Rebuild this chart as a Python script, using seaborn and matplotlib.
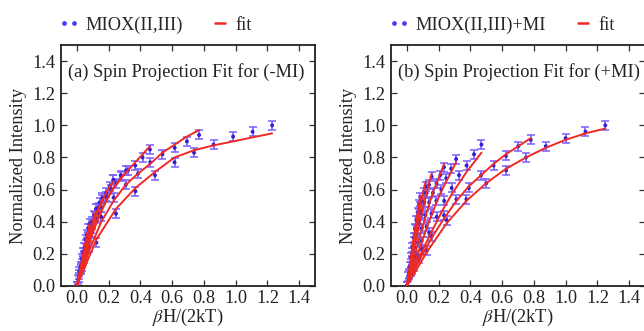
import numpy as np
import pandas as pd
import matplotlib
matplotlib.use("Agg")
import matplotlib.pyplot as plt
from matplotlib.lines import Line2D
from matplotlib.legend_handler import HandlerLine2D
import seaborn as sns

# ---------------- data ----------------
PANEL_TITLES = ["(a) Spin Projection Fit for (-MI)", "(b) Spin Projection Fit for (+MI)"]
SERIES_NAMES = ["MIOX(II,III)", "MIOX(II,III)+MI"]
X_TICKS = [0.0, 0.2, 0.4, 0.6, 0.8, 1.0, 1.2, 1.4]
Y_TICKS = [0.0, 0.2, 0.4, 0.6, 0.8, 1.0, 1.2, 1.4]

# panel (a): one list per field sweep (temperature)
A_X = [
    [0, 0.123, 0.246, 0.369, 0.492, 0.615, 0.738, 0.861, 0.984, 1.107, 1.230],
    [0, 0.077, 0.154, 0.231, 0.308, 0.385, 0.462, 0.539, 0.616, 0.693, 0.770],
    [0, 0.046, 0.092, 0.138, 0.184, 0.230, 0.276, 0.322, 0.368, 0.414, 0.460],
    [0, 0.031, 0.062, 0.093, 0.124, 0.155, 0.186, 0.217, 0.248, 0.279, 0.310],
    [0, 0.023, 0.046, 0.069, 0.092, 0.115, 0.138, 0.161, 0.184, 0.207, 0.230],
    [0, 0.016, 0.032, 0.048, 0.064, 0.080, 0.096, 0.112, 0.128, 0.144, 0.160],
    [0, 0.012, 0.024, 0.036, 0.048, 0.060, 0.072, 0.084, 0.096, 0.108, 0.120],
    [0, 0.008, 0.016, 0.024, 0.032, 0.040, 0.048, 0.056, 0.064, 0.072, 0.080],
]
A_Y = [
    [0, 0.27, 0.45, 0.59, 0.69, 0.77, 0.83, 0.88, 0.93, 0.96, 1.00],
    [0, 0.24, 0.43, 0.55, 0.63, 0.70, 0.77, 0.82, 0.86, 0.90, 0.94],
    [0, 0.17, 0.33, 0.45, 0.56, 0.66, 0.69, 0.72, 0.75, 0.80, 0.85],
    [0, 0.12, 0.23, 0.33, 0.42, 0.49, 0.55, 0.60, 0.64, 0.68, 0.72],
    [0, 0.10, 0.19, 0.28, 0.36, 0.43, 0.49, 0.54, 0.58, 0.62, 0.66],
    [0, 0.07, 0.14, 0.21, 0.27, 0.33, 0.38, 0.43, 0.48, 0.52, 0.55],
    [0, 0.05, 0.11, 0.16, 0.21, 0.26, 0.31, 0.36, 0.40, 0.44, 0.48],
    [0, 0.04, 0.09, 0.12, 0.17, 0.21, 0.24, 0.29, 0.32, 0.36, 0.39],
]
A_FIT = [
    [0, 0.29, 0.48, 0.61, 0.71, 0.80, 0.845, 0.875, 0.90, 0.925, 0.95],
    [0, 0.22, 0.40, 0.53, 0.63, 0.70, 0.76, 0.83, 0.88, 0.93, 0.97],
    [0, 0.16, 0.31, 0.43, 0.53, 0.61, 0.67, 0.72, 0.77, 0.82, 0.87],
    [0, 0.11, 0.22, 0.32, 0.40, 0.47, 0.53, 0.59, 0.63, 0.67, 0.71],
    [0, 0.09, 0.18, 0.27, 0.35, 0.42, 0.48, 0.53, 0.58, 0.62, 0.65],
    [0, 0.07, 0.14, 0.20, 0.26, 0.32, 0.37, 0.42, 0.46, 0.50, 0.54],
    [0, 0.05, 0.10, 0.15, 0.20, 0.25, 0.30, 0.35, 0.39, 0.43, 0.47],
    [0, 0.04, 0.08, 0.12, 0.16, 0.20, 0.24, 0.28, 0.32, 0.35, 0.39],
]

# panel (b)
B_X = [
    [0, 0.125, 0.250, 0.375, 0.500, 0.625, 0.750, 0.875, 1.000, 1.125, 1.250],
    [0, 0.078, 0.156, 0.234, 0.312, 0.390, 0.468, 0.546, 0.624, 0.702, 0.780],
    [0, 0.047, 0.094, 0.141, 0.188, 0.235, 0.282, 0.329, 0.376, 0.423, 0.470],
    [0, 0.031, 0.062, 0.093, 0.124, 0.155, 0.186, 0.217, 0.248, 0.279, 0.310],
    [0, 0.023, 0.047, 0.070, 0.094, 0.117, 0.140, 0.164, 0.187, 0.211, 0.234],
    [0, 0.016, 0.031, 0.047, 0.062, 0.078, 0.094, 0.109, 0.125, 0.140, 0.156],
    [0, 0.012, 0.024, 0.035, 0.047, 0.059, 0.071, 0.083, 0.094, 0.106, 0.118],
    [0, 0.0085, 0.017, 0.0255, 0.034, 0.0425, 0.051, 0.0595, 0.068, 0.0765, 0.085],
]
B_Y = [
    [0, 0.22, 0.41, 0.54, 0.64, 0.72, 0.80, 0.87, 0.92, 0.96, 1.00],
    [0, 0.17, 0.31, 0.44, 0.54, 0.61, 0.69, 0.75, 0.81, 0.87, 0.91],
    [0, 0.12, 0.23, 0.33, 0.43, 0.53, 0.61, 0.69, 0.75, 0.82, 0.88],
    [0, 0.10, 0.19, 0.28, 0.37, 0.45, 0.53, 0.60, 0.67, 0.73, 0.79],
    [0, 0.09, 0.18, 0.27, 0.36, 0.44, 0.52, 0.58, 0.64, 0.69, 0.74],
    [0, 0.08, 0.16, 0.24, 0.32, 0.39, 0.45, 0.52, 0.58, 0.63, 0.68],
    [0, 0.07, 0.14, 0.21, 0.28, 0.35, 0.41, 0.47, 0.53, 0.58, 0.62],
    [0, 0.06, 0.12, 0.18, 0.24, 0.30, 0.36, 0.41, 0.46, 0.51, 0.55],
]
B_FIT = [
    [0, 0.21, 0.39, 0.53, 0.64, 0.73, 0.80, 0.86, 0.91, 0.95, 0.98],
    [0, 0.16, 0.30, 0.42, 0.53, 0.62, 0.69, 0.76, 0.82, 0.87, 0.92],
    [0, 0.11, 0.21, 0.31, 0.40, 0.49, 0.57, 0.64, 0.71, 0.77, 0.83],
    [0, 0.09, 0.18, 0.27, 0.36, 0.44, 0.52, 0.59, 0.65, 0.71, 0.77],
    [0, 0.09, 0.18, 0.27, 0.35, 0.43, 0.51, 0.58, 0.64, 0.70, 0.76],
    [0, 0.08, 0.16, 0.24, 0.31, 0.38, 0.45, 0.52, 0.58, 0.64, 0.70],
    [0, 0.07, 0.14, 0.21, 0.28, 0.35, 0.42, 0.48, 0.54, 0.60, 0.65],
    [0, 0.06, 0.12, 0.18, 0.24, 0.30, 0.35, 0.41, 0.46, 0.51, 0.56],
]
ERR = 0.028

# ---------------- style ----------------
sns.set_theme(style="ticks")
plt.rcParams["font.family"] = ["Liberation Serif", "DejaVu Serif"]
plt.rcParams["mathtext.fontset"] = "stix"
plt.rcParams["axes.linewidth"] = 1.3
plt.rcParams["xtick.direction"] = "in"
plt.rcParams["ytick.direction"] = "in"

BAR_C = "#7d63ff"
DOT_C = "#3020d0"
LEG_C = "#4a3cf0"
FIT_C = "#ee2a24"
FS = 13.2


def make_frame(xs, ys, fits):
    rows = []
    for k, (x, y, f) in enumerate(zip(xs, ys, fits)):
        for xi, yi, fi in zip(x, y, f):
            rows.append({"curve": k, "x": xi, "y": yi, "fit": fi})
    return pd.DataFrame(rows)


fig = plt.figure(figsize=(6.44, 3.31), dpi=100)
W, H = 644.0, 331.0
ax_a = fig.add_axes([61 / W, 45 / H, 254 / W, 241 / H])
ax_b = fig.add_axes([391 / W, 45 / H, 254 / W, 241 / H])

panels = [(ax_a, A_X, A_Y, A_FIT), (ax_b, B_X, B_Y, B_FIT)]
for i, (ax, xs, ys, fits) in enumerate(panels):
    df = make_frame(xs, ys, fits)
    ax.errorbar(df["x"], df["y"], yerr=ERR, fmt="none", ecolor=BAR_C,
                elinewidth=1.3, capsize=3.0, capthick=1.2, alpha=0.95, zorder=2)
    sns.scatterplot(data=df, x="x", y="y", ax=ax, color=DOT_C, s=8,
                    edgecolor="none", zorder=3, legend=False)
    sns.lineplot(data=df, x="x", y="fit", units="curve", estimator=None,
                 sort=False, ax=ax, color=FIT_C, lw=1.4, zorder=4, legend=False)

    ax.set_xlim(-0.1, 1.5)
    ax.set_ylim(0.0, 1.5)
    ax.set_xticks(X_TICKS)
    ax.set_yticks(Y_TICKS)
    ax.set_xticklabels([f"{v:.1f}" for v in X_TICKS], fontsize=FS)
    ax.set_yticklabels([f"{v:.1f}" for v in Y_TICKS], fontsize=FS)
    ax.tick_params(axis="both", which="major", direction="in", length=4,
                   width=0.9, top=True, right=True, color="#333333",
                   labelcolor="#222222")
    ax.tick_params(axis="x", pad=3)
    ax.tick_params(axis="y", pad=4)
    for sp in ax.spines.values():
        sp.set_color("#222222")
    ax.set_xlabel(r"$\beta$H/(2kT)", fontsize=FS, labelpad=0, color="#222222")
    ax.set_ylabel("Normalized Intensity", fontsize=FS, labelpad=4, color="#222222")
    ax.text(0.026, 0.889, PANEL_TITLES[i], transform=ax.transAxes,
            fontsize=FS, va="center", ha="left", color="#222222")

    dot_handle = Line2D([], [], marker="o", ls="none", color=LEG_C, markersize=2.4)
    fit_handle = Line2D([], [], color=FIT_C, lw=1.8)
    ax.legend([dot_handle, fit_handle], [SERIES_NAMES[i], "fit"], loc="center left",
              bbox_to_anchor=(-0.017, 1.083), ncol=2, frameon=False,
              fontsize=FS, numpoints=2, handlelength=0.55, handletextpad=0.6,
              columnspacing=1.75, borderaxespad=0,
              handler_map={dot_handle: HandlerLine2D(numpoints=2, marker_pad=0.0),
                           fit_handle: HandlerLine2D(numpoints=1, marker_pad=0.0)})

fig.savefig("out.png", dpi=100)
